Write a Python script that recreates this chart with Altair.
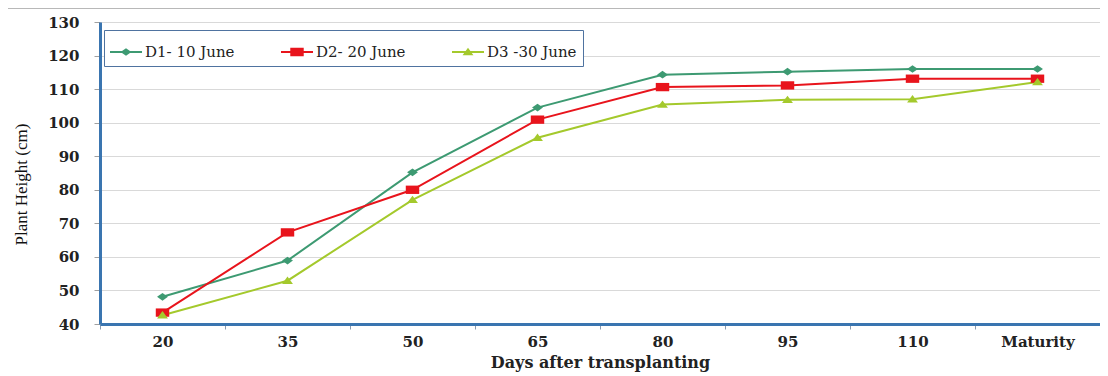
import altair as alt
import pandas as pd

# ---- data ----
days = ["20", "35", "50", "65", "80", "95", "110", "Maturity"]
series = ["D1- 10 June", "D2- 20 June", "D3 -30 June"]
d1 = [48.1, 58.9, 85.2, 104.5, 114.3, 115.2, 116.0, 116.0]
d2 = [43.4, 67.3, 80.0, 100.9, 110.6, 111.1, 113.1, 113.1]
d3 = [42.6, 52.9, 77.0, 95.5, 105.4, 106.8, 107.0, 112.1]
y_ticks = [40, 50, 60, 70, 80, 90, 100, 110, 120, 130]

colors = ["#3d9a72", "#e8141c", "#a4c92c"]
blue = "#3a75b0"

# marker shapes (diamond, wide square, triangle) and legend versions with a line through
marker_paths = [
    "M0,-0.24L0.34,0L0,0.24L-0.34,0Z",
    "M-0.42,-0.26H0.42V0.26H-0.42Z",
    "M0,-0.26L0.34,0.2L-0.34,0.2Z",
]
bar = "M-1,-0.065H1V0.065H-1Z"
legend_paths = [bar + p for p in marker_paths]

rows = []
for name, vals in zip(series, [d1, d2, d3]):
    for d, v in zip(days, vals):
        rows.append({"day": d, "series": name, "height": v})
df = pd.DataFrame(rows)

x_enc = alt.X(
    "day:N",
    sort=days,
    scale=alt.Scale(domain=days, paddingInner=0, paddingOuter=0),
    axis=alt.Axis(
        title="Days after transplanting",
        labelAngle=0,
        tickBand="extent",
        domainColor=blue,
        domainWidth=3,
        tickColor="#8a9bb0",
        tickSize=5,
        labelFont="DejaVu Serif",
        labelFontWeight="bold",
        labelFontSize=15,
        labelColor="#222222",
        labelPadding=5,
        titleFont="DejaVu Serif",
        titleFontWeight="bold",
        titleFontSize=16,
        titleColor="#222222",
        titlePadding=5,
        grid=False,
    ),
)
y_enc = alt.Y(
    "height:Q",
    scale=alt.Scale(domain=[40, 130], nice=False, zero=False),
    axis=alt.Axis(
        title="Plant Height (cm)",
        values=y_ticks,
        grid=True,
        gridColor="#d9d9d9",
        gridWidth=1,
        domainColor=blue,
        domainWidth=3,
        tickColor="#a0a0a0",
        tickSize=6,
        labelFont="DejaVu Serif",
        labelFontWeight="bold",
        labelFontSize=15,
        labelColor="#222222",
        labelPadding=15,
        titleFont="Liberation Serif",
        titleFontWeight="normal",
        titleFontSize=17,
        titleColor="#111111",
        titleX=-70,
        titleY=162,
    ),
)

base = alt.Chart(df)

lines = base.mark_line(strokeWidth=2).encode(
    x=x_enc,
    y=y_enc,
    color=alt.Color("series:N", scale=alt.Scale(domain=series, range=colors), legend=None),
    detail="series:N",
)

points = base.mark_point(filled=True, size=1024, opacity=1).encode(
    x=x_enc,
    y=y_enc,
    color=alt.Color("series:N", scale=alt.Scale(domain=series, range=colors), legend=None),
    shape=alt.Shape("series:N", scale=alt.Scale(domain=series, range=marker_paths), legend=None),
)

leg = alt.Legend(
    title=None,
    orient="none",
    legendX=4,
    legendY=8,
    direction="horizontal",
    columns=3,
    columnPadding=46,
    padding=6,
    strokeColor="#4f73a0",
    fillColor="white",
    labelFont="DejaVu Serif",
    labelFontSize=15,
    labelColor="#222222",
    labelOffset=3,
    symbolSize=1024,
    symbolOpacity=1,
    symbolStrokeWidth=0,
)

legend_layer = alt.Chart(pd.DataFrame({"series": series})).mark_point(
    filled=True, size=1024, opacity=0
).encode(
    color=alt.Color("series:N", scale=alt.Scale(domain=series, range=colors), legend=leg),
    shape=alt.Shape("series:N", scale=alt.Scale(domain=series, range=legend_paths), legend=leg),
)

frame = alt.Chart(pd.DataFrame({"f": [0]})).mark_rect(
    filled=False, stroke="#b8b8b8", strokeWidth=1
).encode(
    x=alt.value(-92.5), x2=alt.value(1020), y=alt.value(-13.5), y2=alt.value(400)
)

chart = (
    alt.layer(frame, lines, points, legend_layer)
    .resolve_scale(color="independent", shape="independent")
    .properties(
        width=1000,
        height=302,
        autosize=alt.AutoSizeParams(type="none"),
        padding={"left": 92, "top": 14, "right": 0, "bottom": 50},
    )
    .configure_view(stroke=blue, strokeWidth=2)
    .configure(background="white")
)

chart.save("out.html", embed_options={"renderer": "svg", "actions": False})
